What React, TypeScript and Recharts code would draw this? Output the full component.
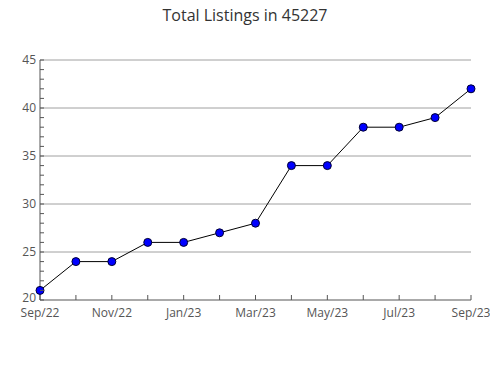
import { LineChart, Line, XAxis, YAxis, ReferenceLine } from 'recharts';

// 月份与挂牌数
const months = ['Sep/22', 'Oct/22', 'Nov/22', 'Dec/22', 'Jan/23', 'Feb/23', 'Mar/23', 'Apr/23', 'May/23', 'Jun/23', 'Jul/23', 'Aug/23', 'Sep/23'];
const listings = [21, 24, 24, 26, 26, 27, 28, 34, 34, 38, 38, 39, 42];
const yTicks = [20, 21, 22, 23, 24, 25, 26, 27, 28, 29, 30, 31, 32, 33, 34, 35, 36, 37, 38, 39, 40, 41, 42, 43, 44, 45];
const gridValues = [25, 30, 35, 40, 45];

const data = months.map((m, i) => ({ month: m, value: listings[i] }));

const FONT = '"Open Sans", "Noto Sans", sans-serif';

const YTick = (props: any) => {
  const { x, y, payload } = props;
  const major = payload.value % 5 === 0;
  return (
    <g>
      <line x1={x} y1={y} x2={x + 4} y2={y} stroke="#555" />
      {major && (
        <text x={x - 4} y={y} dy={payload.value === 20 ? 2 : 4} textAnchor="end" fontSize={12} fill="#555" fontFamily={FONT}>
          {payload.value}
        </text>
      )}
    </g>
  );
};

const XTick = (props: any) => {
  const { x, y, payload, index } = props;
  return (
    <g>
      <line x1={x} y1={y} x2={x} y2={y - 5} stroke="#555" />
      {index % 2 === 0 && (
        <text x={x} y={y} dy={17} textAnchor="middle" fontSize={12} fill="#555" fontFamily={FONT}>
          {payload.value}
        </text>
      )}
    </g>
  );
};

export default function App() {
  return (
    <div style={{ position: 'absolute', left: 0, top: 0, width: 490, height: 380, background: '#fff' }}>
      <div style={{ position: 'absolute', left: 0, top: 4, width: 490, textAlign: 'center', fontFamily: FONT, fontSize: 16, color: '#333' }}>
        Total Listings in 45227
      </div>
      <LineChart width={490} height={380} data={data} margin={{ top: 60, right: 19, bottom: 50, left: 0 }}>
        {gridValues.map(v => (
          <ReferenceLine key={v} y={v} stroke="#a0a0a0" />
        ))}
        <XAxis
          dataKey="month"
          height={30}
          interval={0}
          tickSize={0}
          tickMargin={0}
          tickLine={false}
          axisLine={{ stroke: '#555' }}
          tick={<XTick />}
        />
        <YAxis
          width={40}
          domain={[20, 45]}
          ticks={yTicks}
          interval={0}
          tickSize={0}
          tickMargin={0}
          tickLine={false}
          axisLine={{ stroke: '#555' }}
          tick={<YTick />}
        />
        <Line
          type="linear"
          dataKey="value"
          stroke="#000"
          strokeWidth={1}
          dot={{ r: 4, fill: '#0000ff', stroke: '#000033', strokeWidth: 1 }}
          isAnimationActive={false}
        />
      </LineChart>
    </div>
  );
}
